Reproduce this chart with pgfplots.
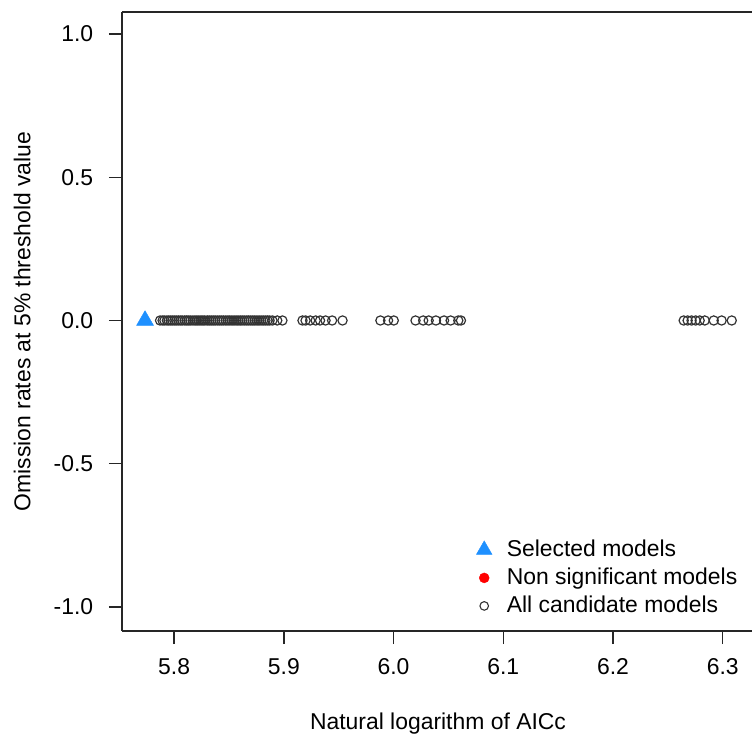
\documentclass[border=0pt]{standalone}
\usepackage{fontspec}
\setmainfont{Liberation Sans}
\usepackage{pgfplots}
\pgfplotsset{compat=1.18}
\definecolor{selblue}{RGB}{30,144,255}
\definecolor{nonsig}{RGB}{255,0,0}

\begin{document}
\fontsize{23}{27}\selectfont
\begin{tikzpicture}
\begin{axis}[
    at={(122bp,108bp)}, anchor=south west,
    scale only axis, width=632bp, height=619bp,
    xmin=5.7525, xmax=6.3285,
    ymin=-1.084, ymax=1.077,
    axis x line*=box, axis y line*=left,
    axis line style={line width=1.5bp, black!85},
    xtick={5.8,5.9,6.0,6.1,6.2,6.3},
    ytick={-1,-0.5,0,0.5,1},
    xtick pos=left, ytick pos=left,
    tick align=outside, major tick length=13bp,
    tick style={line width=1.5bp, black!85},
    /pgf/number format/assume math mode=true,
    /pgf/number format/.cd, fixed, fixed zerofill, precision=1, /pgfplots/.cd,
    x tick label style={yshift=-7bp},
    y tick label style={xshift=-8bp},
    xlabel={Natural logarithm of AICc},
    ylabel={Omission rates at 5\% threshold value},
    xlabel style={at={(axis description cs:0.5,-0.150)}, anchor=center},
    ylabel style={at={(axis description cs:-0.158,0.5)}, anchor=center},
    legend image code/.code={\path (0bp,0bp) (29bp,0bp);
        \draw[mark repeat=2,mark phase=2,#1] plot coordinates {(0bp,0bp)(9bp,0bp)(18bp,0bp)};},
    legend style={at={(axis description cs:0.553,0.154)}, anchor=north west,
        draw=none, fill=none, row sep=4bp, cells={anchor=west}},
]
% all candidate models (ln AICc, omission rate)
\addplot[only marks, mark=o, mark size=4.6bp, line width=1.2bp, black!80, forget plot]
coordinates {
(5.7872,0)(5.7895,0)(5.7912,0)(5.7934,0)(5.7950,0)(5.7968,0)(5.7985,0)(5.8003,0)
(5.8021,0)(5.8040,0)(5.8058,0)(5.8075,0)(5.8097,0)(5.8115,0)(5.8132,0)(5.8150,0)
(5.8171,0)(5.8190,0)(5.8208,0)(5.8226,0)(5.8245,0)(5.8263,0)(5.8280,0)(5.8302,0)
(5.8320,0)(5.8338,0)(5.8357,0)(5.8375,0)(5.8395,0)(5.8414,0)(5.8432,0)(5.8450,0)
(5.8471,0)(5.8490,0)(5.8508,0)(5.8527,0)(5.8546,0)(5.8565,0)(5.8583,0)(5.8602,0)
(5.8620,0)(5.8640,0)(5.8660,0)(5.8678,0)(5.8697,0)(5.8716,0)(5.8735,0)(5.8755,0)
(5.8774,0)(5.8793,0)(5.8812,0)(5.8832,0)(5.8851,0)(5.8870,0)(5.8896,0)(5.8940,0)
(5.8987,0)
(5.9170,0)(5.9198,0)(5.9240,0)(5.9290,0)(5.9330,0)(5.9380,0)(5.9440,0)(5.9535,0)
(5.9880,0)(5.9950,0)(6.0002,0)
(6.0200,0)(6.0270,0)(6.0320,0)(6.0386,0)(6.0460,0)(6.0520,0)(6.0590,0)(6.0614,0)
(6.2644,0)(6.2680,0)(6.2716,0)(6.2753,0)(6.2790,0)(6.2836,0)(6.2918,0)(6.2990,0)
(6.3082,0)
};
% selected model
\addplot[only marks, mark=triangle*, mark size=9.8bp, selblue, forget plot]
coordinates {(5.7735,0)};

\addlegendimage{only marks, mark=triangle*, mark size=9bp, selblue}
\addlegendentry{Selected models}
\addlegendimage{only marks, mark=*, mark size=5bp, nonsig}
\addlegendentry{Non significant models}
\addlegendimage{only marks, mark=o, mark size=4.3bp, line width=1.1bp, black!80}
\addlegendentry{All candidate models}
\end{axis}
\pgfresetboundingbox
\useasboundingbox (0,0) rectangle (752bp,739bp);
\end{tikzpicture}
\end{document}
